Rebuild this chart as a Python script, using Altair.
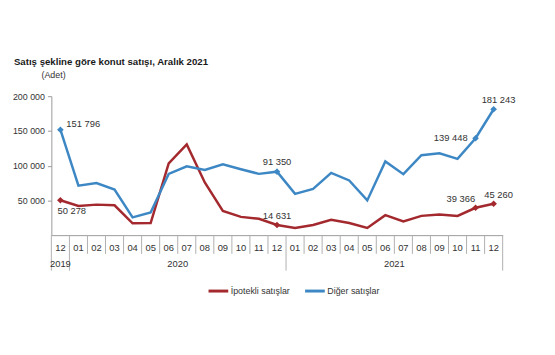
import altair as alt
import pandas as pd

months = ["12", "01", "02", "03", "04", "05", "06", "07", "08", "09", "10", "11", "12",
          "01", "02", "03", "04", "05", "06", "07", "08", "09", "10", "11", "12"]
years = ["2019", "2020", "2021"]
year_counts = [1, 12, 12]
series_names = ["İpotekli satışlar", "Diğer satışlar"]
ipotekli = [50278, 41900, 43900, 42900, 17000, 17400, 103300, 130500, 75800, 34800, 26300, 23500, 14631,
            10300, 14600, 22100, 17400, 10300, 28700, 19800, 27700, 29700, 27700, 39366, 45260]
diger = [151796, 71200, 75000, 65500, 25500, 32500, 88200, 99000, 93800, 102000, 94800, 88200, 91350,
         59400, 66500, 89600, 78700, 50000, 106100, 87700, 115000, 117900, 109800, 139448, 181243]
y_ticks = [50000, 100000, 150000, 200000]

RED = "#A3292E"
BLUE = "#3D88C4"

rows = []
for i, (m, a, b) in enumerate(zip(months, ipotekli, diger)):
    rows.append(dict(idx=i, month=m, series=series_names[0], value=a))
    rows.append(dict(idx=i, month=m, series=series_names[1], value=b))
df = pd.DataFrame(rows)
df["label"] = df["value"].map(lambda v: f"{v:,}".replace(",", " "))

n = len(months)
xscale = alt.Scale(domain=[-0.5, n - 0.5], nice=False, zero=False)
yscale = alt.Scale(domain=[0, 200000], nice=False)

X = alt.X("idx:Q", scale=xscale,
          axis=alt.Axis(labels=False, ticks=False, grid=False, title=None, domainColor="#9a9a9a"))
Y = alt.Y("value:Q", scale=yscale,
          axis=alt.Axis(values=y_ticks, grid=False, title=None, tickSize=4,
                        domainColor="#9a9a9a", tickColor="#9a9a9a",
                        labelFontSize=9, labelColor="#333333", labelFont="Liberation Sans",
                        labelPadding=3,
                        labelExpr="replace(format(datum.value, ','), ',', ' ')"))
color = alt.Color("series:N", scale=alt.Scale(domain=series_names, range=[RED, BLUE]),
                  legend=alt.Legend(title=None, orient="none", legendX=158, legendY=186,
                                    direction="horizontal", symbolType="stroke",
                                    symbolStrokeWidth=3, symbolSize=400, labelFontSize=9,
                                    labelFont="Liberation Sans", labelColor="#333333",
                                    columnPadding=8, labelOffset=1))

base = alt.Chart(df)
lines = base.mark_line(strokeWidth=2.5).encode(x=X, y=Y, color=color)

marked = [0, 12, 23, 24]
points = base.transform_filter(
    alt.FieldOneOfPredicate(field="idx", oneOf=marked)
).mark_point(shape="diamond", filled=True, size=45, opacity=1).encode(
    x=X, y=Y, color=alt.Color("series:N", scale=alt.Scale(domain=series_names, range=[RED, BLUE]), legend=None))


def label(idx, series, dx, dy, align="center"):
    return base.transform_filter(
        (alt.datum.idx == idx) & (alt.datum.series == series)
    ).mark_text(dx=dx, dy=dy, align=align, fontSize=9.5, font="Liberation Sans", color="#333333").encode(
        x=X, y=Y, text="label:N")


labels = [
    label(0, series_names[1], 6, -6, "left"),
    label(0, series_names[0], -3, 11, "left"),
    label(12, series_names[1], 0, -10),
    label(12, series_names[0], 0, -9),
    label(23, series_names[1], -8, 0, "right"),
    label(23, series_names[0], -15, -9),
    label(24, series_names[1], 5, -9),
    label(24, series_names[0], 5, -9),
]

month_df = pd.DataFrame({"idx": list(range(n)), "month": months})
month_text = alt.Chart(month_df).mark_text(fontSize=9.5, font="Liberation Sans", color="#333333",
                                           baseline="middle").encode(
    x=alt.X("idx:Q", scale=xscale), y=alt.value(154), text="month:N")

# year labels at group centres and boundaries
year_pos = []
bounds = [-0.5]
start = 0
for c in year_counts:
    year_pos.append(start + (c - 1) / 2)
    start += c
    bounds.append(start - 0.5)
year_df = pd.DataFrame({"pos": year_pos, "year": years})
year_text = alt.Chart(year_df).mark_text(fontSize=9.5, font="Liberation Sans", color="#333333",
                                         baseline="middle").encode(
    x=alt.X("pos:Q", scale=xscale), y=alt.value(170), text="year:N")

short_df = pd.DataFrame({"pos": [i + 0.5 for i in range(n - 1) if (i + 0.5) not in bounds]})
short_rules = alt.Chart(short_df).mark_rule(color="#b0b0b0", strokeWidth=1).encode(
    x=alt.X("pos:Q", scale=xscale), y=alt.value(141), y2=alt.value(160))
long_df = pd.DataFrame({"pos": bounds})
long_rules = alt.Chart(long_df).mark_rule(color="#b0b0b0", strokeWidth=1).encode(
    x=alt.X("pos:Q", scale=xscale), y=alt.value(141), y2=alt.value(177))

title = alt.Chart(pd.DataFrame({"t": ["Satış şekline göre konut satışı, Aralık 2021"]})).mark_text(
    align="left", baseline="middle", fontSize=9.8, fontWeight="bold", font="Liberation Sans",
    color="#1a1a1a").encode(x=alt.value(-38), y=alt.value(-35), text="t:N")
unit = alt.Chart(pd.DataFrame({"t": ["(Adet)"]})).mark_text(
    align="left", baseline="middle", fontSize=9, font="Liberation Sans", color="#333333").encode(
    x=alt.value(-10), y=alt.value(-21), text="t:N")

chart = alt.layer(short_rules, long_rules, month_text, year_text, lines, points, *labels, title, unit).properties(
    width=458, height=141, autosize="none",
    padding={"left": 44, "top": 87, "right": 45, "bottom": 110},
).configure_view(stroke=None)

chart.save("out.html", embed_options={"renderer": "svg", "actions": False})
